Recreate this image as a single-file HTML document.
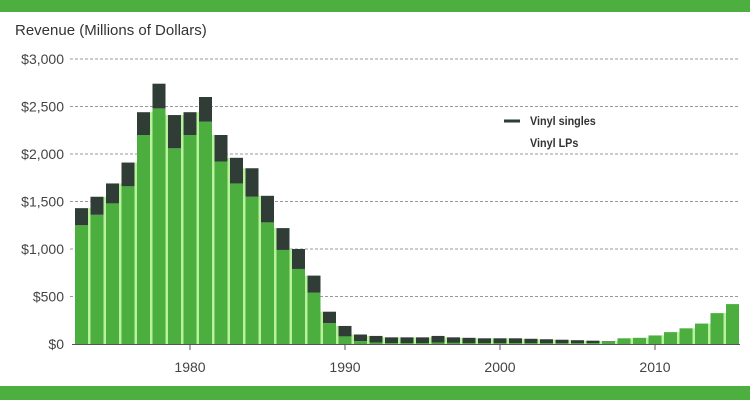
<!DOCTYPE html>
<html><head><meta charset="utf-8"><style>
body{margin:0;background:#fff;font-family:"Liberation Sans",sans-serif}
svg{display:block}
</style></head><body>
<svg width="750" height="400">
<rect x="0" y="0" width="750" height="12" fill="#4caf3f"/>
<rect x="0" y="386" width="750" height="14" fill="#4caf3f"/>
<text x="15" y="35" font-size="15" fill="#333">Revenue (Millions of Dollars)</text>
<g id="grid"></g><g id="bars"></g><g id="axis"></g>
<g>
<line x1="504" y1="121" x2="520" y2="121" stroke="#2f3d36" stroke-width="3"/>
<text x="530" y="125" font-size="12" font-weight="bold" fill="#333" transform="scale(0.9,1)" transform-origin="530 125">Vinyl singles</text>
<text x="530" y="147" font-size="12" font-weight="bold" fill="#333" transform="scale(0.9,1)" transform-origin="530 147">Vinyl LPs</text>
</g>
</svg>
<script>
const years=[1973,1974,1975,1976,1977,1978,1979,1980,1981,1982,1983,1984,1985,1986,1987,1988,1989,1990,1991,1992,1993,1994,1995,1996,1997,1998,1999,2000,2001,2002,2003,2004,2005,2006,2007,2008,2009,2010,2011,2012,2013,2014,2015];
const lps=[1250,1360,1480,1660,2200,2480,2060,2200,2340,1920,1690,1550,1280,990,790,540,220,80,30,15,10,10,10,15,12,10,10,10,10,10,8,8,8,10,25,60,65,90,125,165,215,325,420];
const singles=[180,190,210,250,240,260,350,240,260,280,270,300,280,230,210,180,120,110,70,70,60,60,60,70,58,55,50,50,50,45,42,37,32,25,5,0,0,0,0,0,0,0,0];
const yTicks=[0,500,1000,1500,2000,2500,3000];
const yLabels=["$0","$500","$1,000","$1,500","$2,000","$2,500","$3,000"];
const xTicks=[1980,1990,2000,2010];
const NS="http://www.w3.org/2000/svg";
const y=v=>344-v*0.095;
const x=yr=>190+(yr-1980)*15.5;
function mk(t,a,p){const e=document.createElementNS(NS,t);for(const k in a)e.setAttribute(k,a[k]);document.getElementById(p).appendChild(e);return e;}
yTicks.forEach((v,i)=>{
 if(v>0){const l=mk('line',{x1:70,x2:740,y1:y(v),y2:y(v),stroke:'#999','stroke-dasharray':'3,2','stroke-width':1},'grid');
 
 }
 const t=mk('text',{x:64,y:y(v)+5,'text-anchor':'end','font-size':14,fill:'#444'},'grid');t.textContent=yLabels[i];
 
 
});
mk('rect',{x:72,y:y(3000)-3,width:668,height:y(0)-y(3000)+3,fill:'#b8f29c'},'bars');
years.forEach((yr,i)=>{
 const cx=x(yr),w=13;
 const a=mk('rect',{x:cx-w/2,y:y(lps[i]),width:w,height:y(0)-y(lps[i]),fill:'#4cae3e'},'bars');
 
 
 const b=mk('rect',{x:cx-w/2,y:y(lps[i]+singles[i]),width:w,height:y(lps[i])-y(lps[i]+singles[i]),fill:'#2f3d36'},'bars');
 
 
});
// cover light bg above bars
const bg=document.getElementById('bars');
years.forEach((yr,i)=>{});
mk('line',{x1:72,x2:740,y1:344.5,y2:344.5,stroke:'#555','stroke-width':1},'axis');
xTicks.forEach(v=>{
 mk('line',{x1:x(v),x2:x(v),y1:344,y2:350,stroke:'#555'},'axis');
 const t=mk('text',{x:x(v),y:372,'text-anchor':'middle','font-size':14,fill:'#444'},'axis');t.textContent=v;
 
 
});
</script>
<script>
// mask light-green background above each bar so it only shows between bars
(function(){const g=document.getElementById('bars');const bgR=g.firstChild;bgR.remove();
years.forEach((yr,i)=>{if(i<years.length-1){const top=Math.max(lps[i]+singles[i],lps[i+1]+singles[i+1]);const top2=Math.min(lps[i]+singles[i],lps[i+1]+singles[i+1]);
const r=document.createElementNS(NS,'rect');r.setAttribute('x',x(yr)+6.5);r.setAttribute('y',y(top2));r.setAttribute('width',2.5);r.setAttribute('height',y(0)-y(top2));r.setAttribute('fill','#b8f29c');


g.insertBefore(r,g.firstChild);}});})();
</script>
</body></html>
